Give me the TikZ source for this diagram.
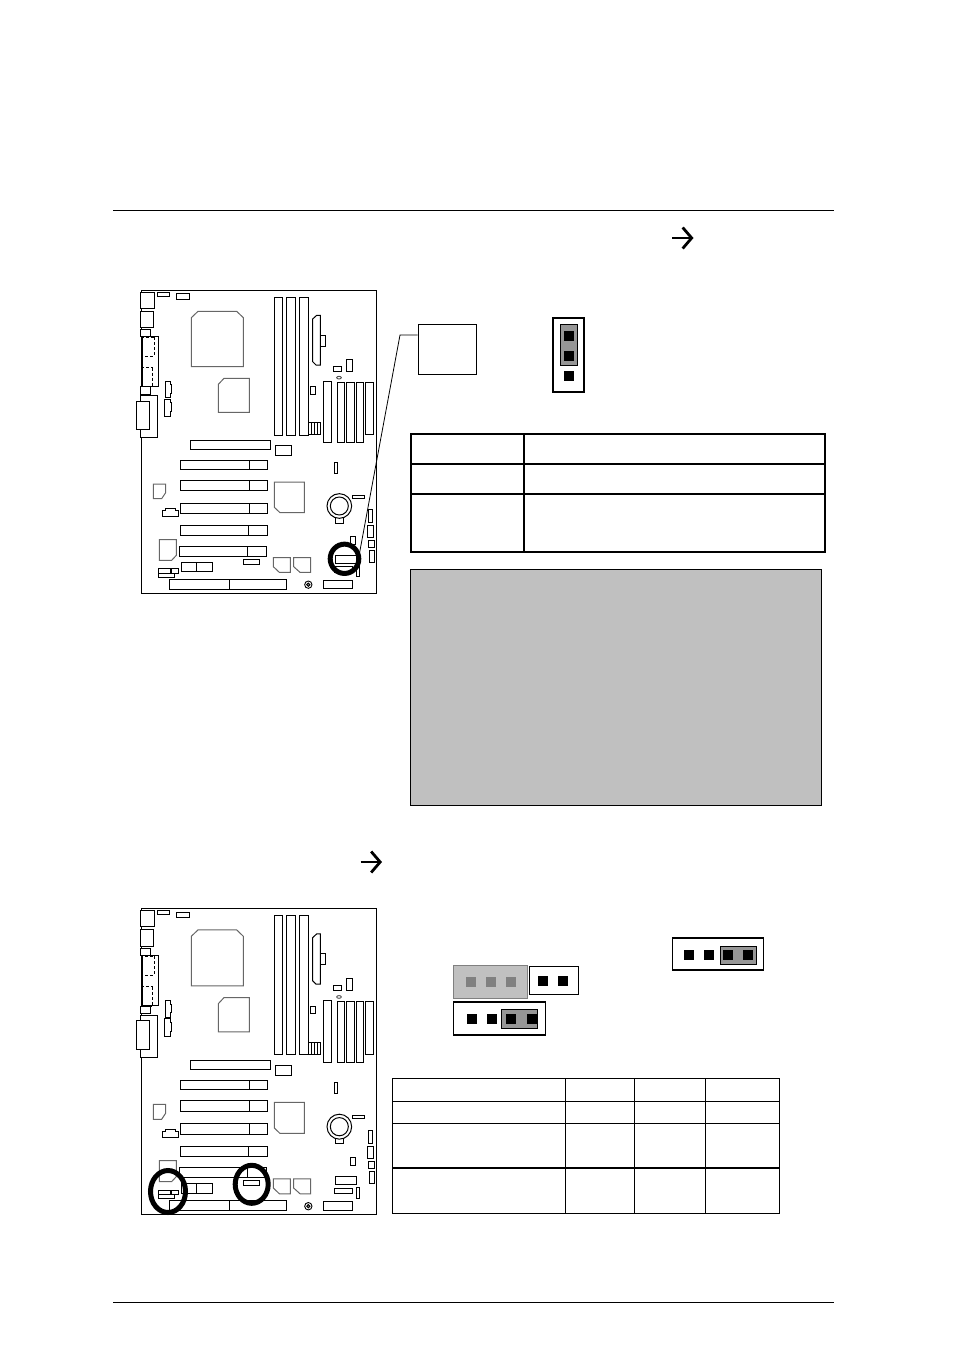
\documentclass[tikz,border=0pt]{standalone}
\usetikzlibrary{shapes.geometric, arrows.meta}
\definecolor{panelgray}{HTML}{C0C0C0}
\definecolor{capgray}{HTML}{969696}
\definecolor{pingray}{HTML}{808080}
\tikzset{
    part/.style={draw, line width=1pt, fill=white},
    chip/.style={draw=black!60, line width=1pt, fill=white},
    ring/.style={ellipse, draw, line width=5pt, inner sep=0pt},
    header/.style={rectangle, draw, line width=1.2pt, fill=white, inner sep=0pt},
    jumpercap/.style={rectangle, draw, line width=1pt, fill=capgray, inner sep=0pt},
    pin/.style={rectangle, fill=black, minimum width=10pt, minimum height=10pt, inner sep=0pt},
    ghostpin/.style={rectangle, fill=pingray, minimum width=10pt, minimum height=10pt, inner sep=0pt},
    rule/.style={line width=0.8pt},
    grid/.style={line width=1.5pt},
    openarrow/.style={line width=2.2pt, -{Straight Barb[length=9pt, width=21pt, line width=2.8pt]}}
}
\newcommand{\motherboard}{
    \draw[line width=1pt] (35,30) rectangle (740,940);
    % back panel
    \draw[part] (32,37) rectangle (74,85);
    \draw[part] (32,93) rectangle (70,142);
    \draw[part] (82,37) rectangle (119,48);
    \draw[part] (139,41) rectangle (178,58);
    \draw[part] (32,148) rectangle (62,170);
    \draw[part] (37,170) rectangle (86,318);
    \draw[line width=0.9pt, densely dashed] (72,172) -- (72,228) -- (33,228) -- (33,172) -- cycle;
    \draw[line width=0.9pt, densely dashed] (68,263) -- (68,320) -- (33,320) -- (33,263) -- cycle;
    \draw[part] (32,320) rectangle (62,342);
    \draw[part] (32,347) rectangle (83,472);
    \draw[part] (18,364) rectangle (58,448);
    \draw[part] (106,304) -- (120,304) -- (120,314) -- (125,314) -- (125,340) -- (120,340) -- (120,353) -- (106,353) -- cycle;
    \draw[part] (102,358) -- (120,358) -- (120,368) -- (125,368) -- (125,395) -- (120,395) -- (120,410) -- (102,410) -- cycle;
    % cpu and north bridge
    \draw[chip] (184,113) -- (204,94) -- (320,94) -- (340,113) -- (340,260) -- (184,260) -- cycle;
    \draw[chip] (265,313) -- (282,295) -- (358,295) -- (358,397) -- (265,397) -- cycle;
    % memory
    \draw[part] (433,52) rectangle (458,465);
    \draw[part] (469,52) rectangle (497,465);
    \draw[part] (508,52) rectangle (536,465);
    \draw[part] (548,117) -- (560,106) -- (571,106) -- (571,255) -- (558,255) -- (548,245) -- cycle;
    \draw[part] (571,165) rectangle (586,198);
    \draw[part] (611,259) rectangle (635,273);
    \draw[part] (649,237) rectangle (667,274);
    \draw[line width=0.9pt, black!70] (627,293) ellipse (7 and 4);
    \draw[part] (541,320) rectangle (556,343);
    \draw[line width=0.7pt, xstep=8.5, ystep=8.75, shift={(536,428)}] (0,0) grid (34,35);
    \draw[line width=1pt] (536,428) rectangle (570,463);
    \draw[part] (580,305) rectangle (605,487);
    \draw[part] (622,307) rectangle (644,487);
    \draw[part] (649,307) rectangle (673,487);
    \draw[part] (679,307) rectangle (701,487);
    \draw[part] (706,307) rectangle (730,463);
    % slots
    \draw[part] (181,481) rectangle (421,508);
    \draw[part] (436,496) rectangle (485,526);
    \draw[part] (151,541) rectangle (413,569); \draw[line width=1pt] (358,541) -- (358,569);
    \draw[part] (151,601) rectangle (413,632); \draw[line width=1pt] (358,601) -- (358,632);
    \draw[part] (151,670) rectangle (413,700); \draw[line width=1pt] (358,670) -- (358,700);
    \draw[part] (151,736) rectangle (413,767); \draw[line width=1pt] (355,736) -- (355,767);
    \draw[part] (148,799) rectangle (410,829); \draw[line width=1pt] (352,799) -- (352,829);
    % south bridge and small chips
    \draw[chip] (433,606) -- (523,606) -- (523,698) -- (450,698) -- (433,682) -- cycle;
    \draw[chip] (70,612) -- (107,612) -- (107,638) -- (95,656) -- (70,656) -- cycle;
    \draw[chip] (88,779) -- (139,779) -- (139,826) -- (125,841) -- (88,841) -- cycle;
    \draw[part] (97,692) -- (107,692) -- (107,686) -- (136,686) -- (136,692) -- (146,692) -- (146,709) -- (97,709) -- cycle;
    \draw[chip] (430,833) -- (481,833) -- (481,877) -- (448,877) -- (430,860) -- cycle;
    \draw[chip] (491,833) -- (542,833) -- (542,877) -- (510,877) -- (491,860) -- cycle;
    % lower edge
    \draw[part] (155,847) rectangle (247,875); \draw[line width=1pt] (198,847) -- (198,875);
    \draw[part] (85,866) rectangle (120,880);
    \draw[part] (123,866) rectangle (145,880);
    \draw[part] (85,880) rectangle (134,892);
    \draw[part] (118,898) rectangle (469,928); \draw[line width=1pt] (298,898) -- (298,928);
    \draw[part] (340,838) rectangle (388,853);
    \draw[line width=0.9pt] (535,914) circle (11);
    \draw[line width=0.9pt, fill=black!50] (535,914) circle (5);
    \draw[part] (580,901) rectangle (667,926);
    % battery
    \draw[part] (617,713) rectangle (641,729);
    \draw[part] (628,678) circle (37);
    \draw[part] (628,678) circle (27);
    \draw[part] (613,546) rectangle (622,580);
    \draw[part] (668,645) rectangle (703,655);
    % right edge
    \draw[part] (715,689) rectangle (728,727);
    \draw[part] (712,736) rectangle (731,772);
    \draw[part] (716,782) rectangle (733,802);
    \draw[part] (718,810) rectangle (734,848);
    \draw[part] (662,770) rectangle (676,793);
    \draw[part] (617,825) rectangle (680,850);
    \draw[part] (612,860) rectangle (668,876);
    \draw[part] (679,858) rectangle (689,890);
}
\begin{document}
\begin{tikzpicture}[x=1pt, y=-1pt]
    \useasboundingbox (0,0) rectangle (954,1352);

    \draw[rule] (113,210.5) -- (833.5,210.5);
    \draw[rule] (113,1302.5) -- (833.5,1302.5);

    \coordinate (arrowtopa) at (672,238);
    \coordinate (arrowtopb) at (693.5,238);
    \draw[openarrow] (arrowtopa) -- (arrowtopb);
    \coordinate (arrowmida) at (360.5,862);
    \coordinate (arrowmidb) at (382,862);
    \draw[openarrow] (arrowmida) -- (arrowmidb);

    % first board
    \begin{scope}[shift={(130,280)}, scale=1/3]
        \motherboard
    \end{scope}
    \node[ring, minimum width=28.6pt, minimum height=29.3pt] (jpring) at (344.5,558.8) {};
    \node[rectangle, draw, line width=0.9pt, minimum width=58pt, minimum height=50pt, inner sep=0pt] (jplabel) at (447,349) {};
    \coordinate (jpkink) at (400,335);
    \draw[line width=0.8pt] (jplabel.west |- jpkink) -- (jpkink) -- (jpring.25);

    % upright jumper
    \node[header, line width=1.5pt, minimum width=31pt, minimum height=74pt] (jpbox) at (568.5,355) {};
    \node[jumpercap, minimum width=17pt, minimum height=41pt] (jpcap) at (568.5,344.5) {};
    \node[pin] (jppin1) at (569,336) {};
    \node[pin] (jppin2) at (569,356) {};
    \node[pin] (jppin3) at (569,376) {};

    % first table
    \draw[grid] (411,434) rectangle (825,552);
    \draw[grid] (411,464) -- (825,464);
    \draw[grid] (411,494) -- (825,494);
    \draw[grid] (524,434) -- (524,552);

    \draw[line width=0.7pt, fill=panelgray] (410.5,569) rectangle (821.5,805);

    % second board
    \begin{scope}[shift={(130,898.2)}, xscale=1/3, yscale=1.011/3]
        \motherboard
    \end{scope}
    \node[ring, minimum width=35pt, minimum height=42pt] (ringleft) at (168,1191.5) {};
    \node[ring, minimum width=33pt, minimum height=38pt] (ringright) at (251.7,1184.3) {};

    % three pin headers
    \node[header, minimum width=91.5pt, minimum height=32pt] (headtop) at (718,954) {};
    \node[jumpercap, minimum width=36pt, minimum height=18pt] (captop) at (738.5,955) {};
    \node[pin] (toppin1) at (689,955) {};
    \node[pin] (toppin2) at (708.7,955) {};
    \node[pin] (toppin3) at (728.3,955) {};
    \node[pin] (toppin4) at (747.7,955) {};

    \node[rectangle, draw=pingray, line width=1pt, fill=panelgray, minimum width=74pt, minimum height=33pt, inner sep=0pt] (headghost) at (490,981.8) {};
    \node[ghostpin] (ghostpin1) at (471,982.3) {};
    \node[ghostpin] (ghostpin2) at (491,982.3) {};
    \node[ghostpin] (ghostpin3) at (511,982.3) {};

    \node[header, minimum width=49pt, minimum height=27.6pt] (headmid) at (553.8,980.5) {};
    \node[pin] (midpin1) at (543,981) {};
    \node[pin] (midpin2) at (562.7,981) {};

    \node[header, line width=1.5pt, minimum width=91.6pt, minimum height=33pt] (headlow) at (499.5,1018.5) {};
    \node[jumpercap, minimum width=36pt, minimum height=18.6pt] (caplow) at (519.5,1019) {};
    \node[pin] (lowpin1) at (472,1019) {};
    \node[pin] (lowpin2) at (491.7,1019) {};
    \node[pin] (lowpin3) at (511,1019) {};
    \node[pin] (lowpin4) at (531.7,1019) {};

    % second table
    \draw[line width=1pt] (392,1078) rectangle (779,1213);
    \draw[line width=0.9pt] (392,1101) -- (779,1101);
    \draw[line width=0.9pt] (392,1123) -- (779,1123);
    \draw[grid] (392,1168) -- (779,1168);
    \draw[line width=0.9pt] (565,1078) -- (565,1213);
    \draw[line width=0.9pt] (634,1078) -- (634,1213);
    \draw[line width=0.9pt] (705,1078) -- (705,1213);
\end{tikzpicture}
\end{document}
